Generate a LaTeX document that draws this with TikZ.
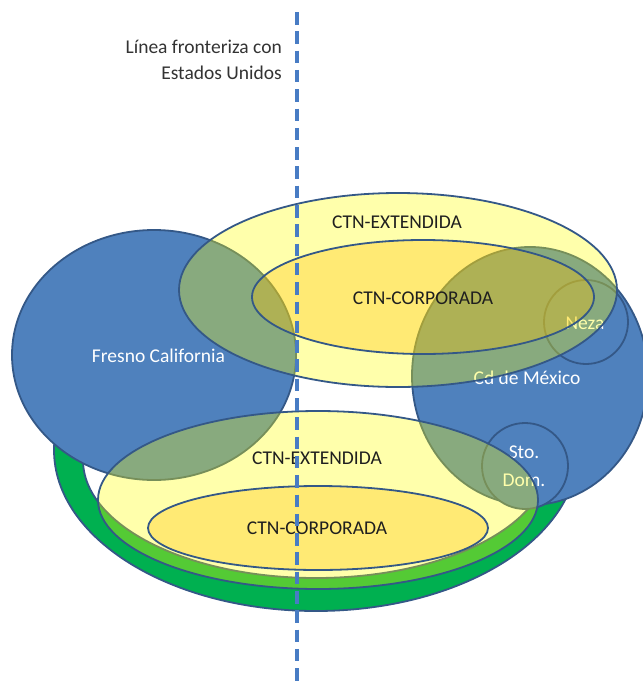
\documentclass[tikz,border=0pt]{standalone}
\usepackage{fontspec}
\setmainfont{Carlito}
\begin{document}
\begin{tikzpicture}[x=1pt,y=-1pt]
\definecolor{pblue}{RGB}{79,129,189}
\definecolor{pline}{RGB}{52,88,135}
\definecolor{dgreen}{RGB}{0,176,80}
\definecolor{lyel}{RGB}{255,255,0}
\definecolor{gold}{RGB}{255,192,0}
\definecolor{dashblue}{RGB}{72,124,196}
\tikzset{
  outl/.style={draw=pline, line width=1.8pt},
  region/.style={outl, fill=pblue},
  ext/.style={outl, fill=lyel, fill opacity=0.33},
  corp/.style={outl, fill=gold, fill opacity=0.32},
  wlabel/.style={text=white, font=\fontsize{19.5}{23}\selectfont, inner sep=0pt, align=center},
  dlabel/.style={text=black!88, font=\fontsize{19.5}{23}\selectfont, inner sep=0pt},
  border/.style={dashblue, line width=3.3pt, dash pattern=on 12.5pt off 6.8pt}
}
\useasboundingbox (0,0) rectangle (643,686);
% green ring (lower part)
\begin{scope}
  \clip (0,390) rectangle (643,686);
  \fill[dgreen, even odd rule] (316,450) ellipse [x radius=262pt, y radius=161pt]
                               (316,460) ellipse [x radius=233pt, y radius=118pt];
  \draw[outl] (316,450) ellipse [x radius=262pt, y radius=161pt];
  \draw[outl] (316,460) ellipse [x radius=233pt, y radius=118pt];
\end{scope}
% Fresno
\draw[region] (154,355) ellipse [x radius=142pt, y radius=125pt];
\node[wlabel] (fresno) at (158.5,356) {Fresno California};
% Cd de Mexico
\draw[region] (530,376) ellipse [x radius=118pt, y radius=129pt];
\draw[region] (586,322) circle [radius=42pt];
\draw[region] (525,466) circle [radius=43pt];
\node[wlabel] (cdmx) at (527,378) {Cd de México};
\node[wlabel] (neza) at (585,323) {Neza};
\node[wlabel] (sto) at (524,452) {Sto.};
\node[wlabel] (dom) at (524,480) {Dom.};
% bottom ellipses
\draw[ext] (318,500) ellipse [x radius=220pt, y radius=89pt];
\draw[corp] (318,528) ellipse [x radius=170pt, y radius=42pt];
% top ellipses
\draw[ext] (398,290) ellipse [x radius=219pt, y radius=97pt];
\draw[corp] (423,297) ellipse [x radius=171pt, y radius=57pt];
% labels
\node[dlabel] (te) at (397,222) {CTN-EXTENDIDA};
\node[dlabel] (tc) at (423,298) {CTN-CORPORADA};
\node[dlabel] (be) at (317,458) {CTN-EXTENDIDA};
\node[dlabel] (bc) at (317,528) {CTN-CORPORADA};
% border line
\coordinate (ltop) at (297,12);
\coordinate (lbot) at (297,686);
\draw[border] (ltop) -- (lbot);
\node[dlabel, anchor=east, text=black!80] (l1) at (282,47) {Línea fronteriza con};
\node[dlabel, anchor=east, text=black!80] (l2) at (282,73) {Estados Unidos};
\end{tikzpicture}
\end{document}
